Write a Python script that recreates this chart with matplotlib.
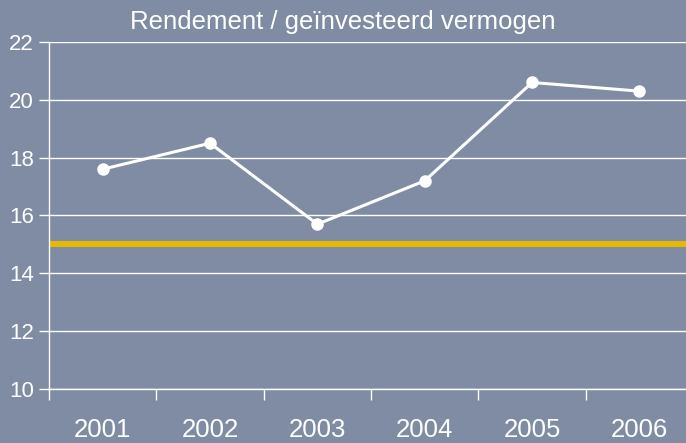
import numpy as np
import matplotlib.pyplot as plt

jaren = ["2001", "2002", "2003", "2004", "2005", "2006"]
rendement = [17.6, 18.5, 15.7, 17.2, 20.6, 20.3]
norm = 15.0

bg = "#7f8ca4"
geel = "#e6b800"

fig = plt.figure(figsize=(6.86, 4.43), dpi=100, facecolor=bg)
ax = fig.add_axes([0.0714, 0.1219, 0.939, 0.7833], facecolor=bg)

x = np.arange(len(jaren))
ax.axhline(norm, color=geel, lw=4.3, zorder=2)
ax.plot(x, rendement, color="white", lw=2.2, marker="o", ms=8, zorder=3)

ax.set_xlim(-0.5, len(jaren) - 0.5)
ax.set_ylim(10, 22)
ax.set_yticks(np.arange(10, 23, 2))
ax.yaxis.grid(True, color="white", lw=1)
ax.set_axisbelow(True)

ax.set_xticks(x)
ax.set_xticklabels(jaren)
ax.set_xticks(np.arange(-0.5, len(jaren), 1), minor=True)
ax.tick_params(axis="x", which="major", length=0, pad=21, labelsize=18.5, labelcolor="white")
ax.tick_params(axis="x", which="minor", length=8, width=1, color="white", direction="out")
ax.tick_params(axis="y", length=7, width=1, color="white", labelsize=16, labelcolor="white", pad=4)
for lab in ax.get_xticklabels() + ax.get_yticklabels():
    lab.set_family("Liberation Sans")

for s in ["top", "right"]:
    ax.spines[s].set_visible(False)
for s in ["left", "bottom"]:
    ax.spines[s].set_color("white")
    ax.spines[s].set_linewidth(1)

fig.text(0.5, 0.95, "Rendement / geïnvesteerd vermogen", ha="center", va="center",
         color="white", fontsize=18.5, family="Liberation Sans")

fig.savefig("out.png", dpi=100, facecolor=bg)
